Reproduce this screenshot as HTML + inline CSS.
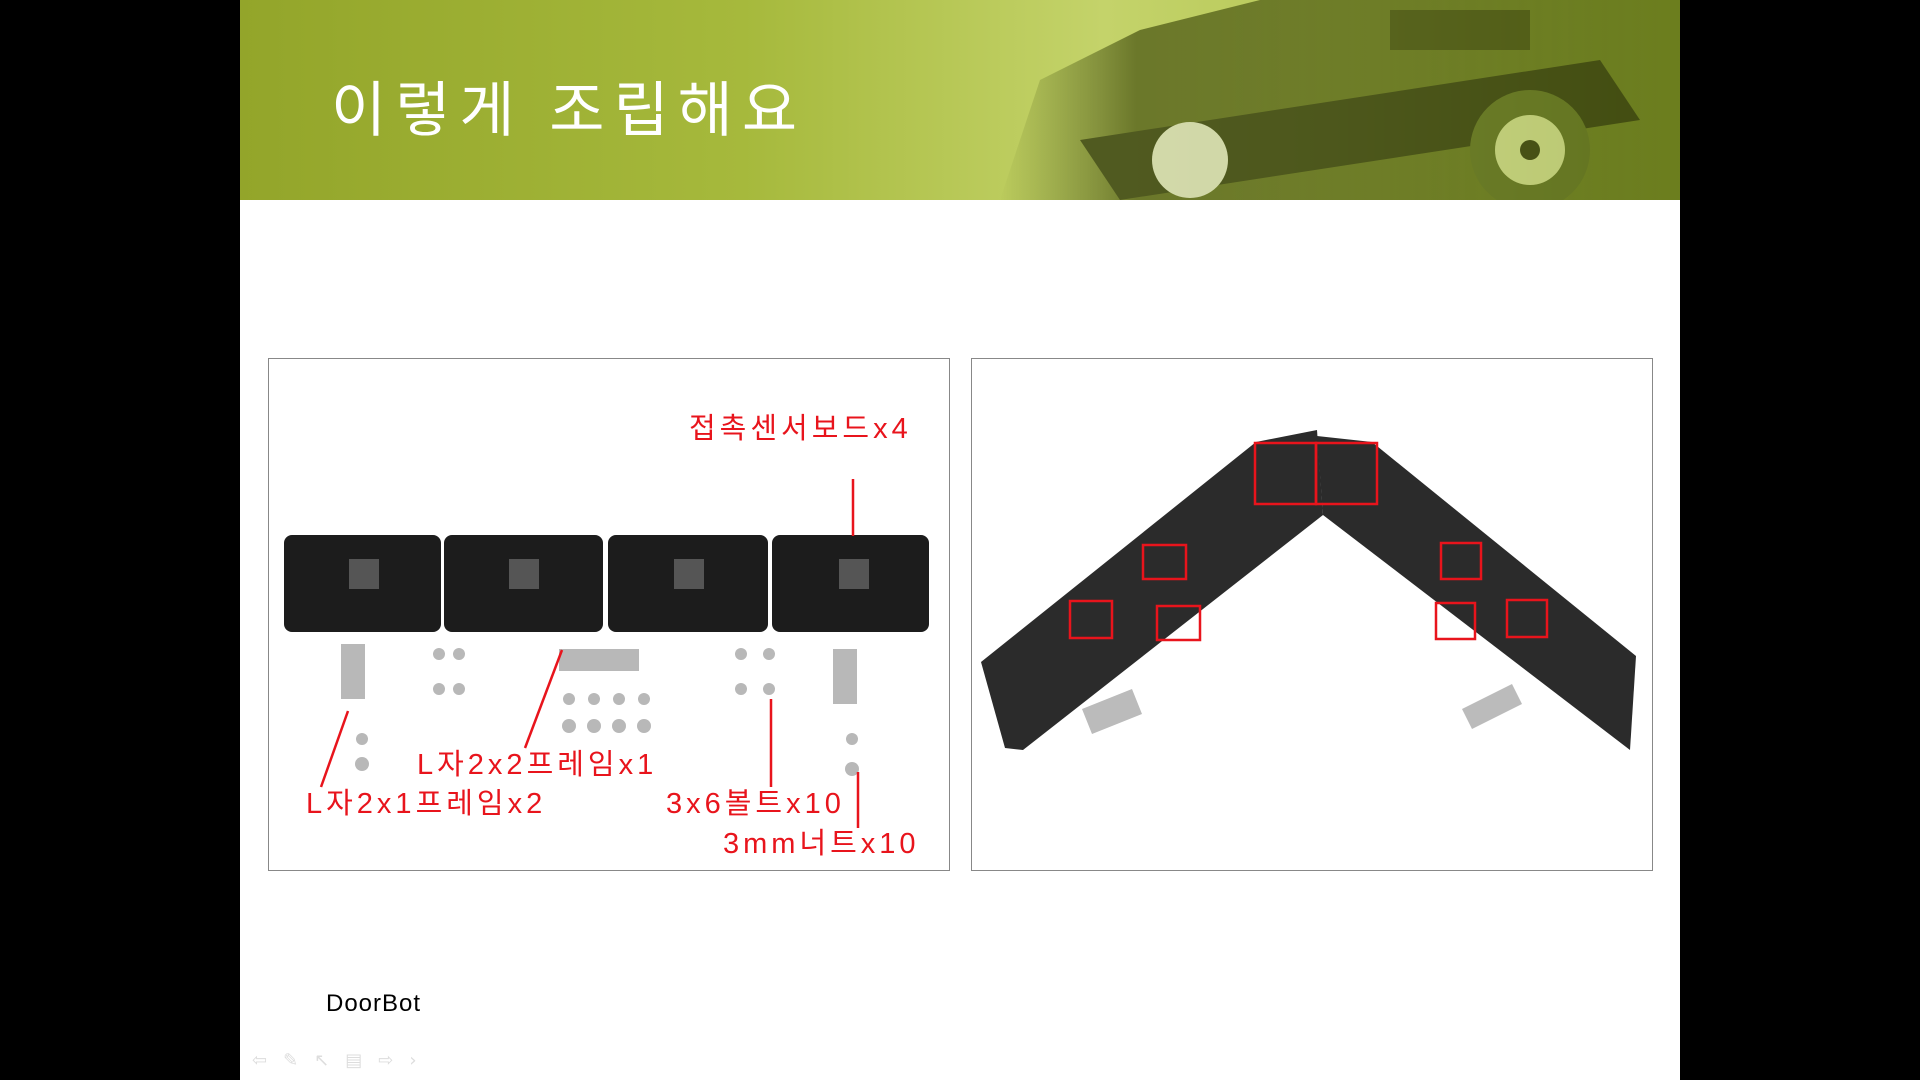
<!DOCTYPE html>
<html><head><meta charset="utf-8"><style>
html,body{margin:0;padding:0;background:#000;width:1920px;height:1080px;overflow:hidden}
#slide{position:absolute;left:240px;top:0;width:1440px;height:1080px;background:#fff;overflow:hidden}
#hdr{position:absolute;left:0;top:0;width:1440px;height:200px;background:linear-gradient(90deg,#93a52a 0%,#a6b93c 35%,#c4d36a 60%,#b8c95a 75%,#8c9e2a 100%)}
#title{position:absolute;left:91px;top:62px;font:60px "Liberation Sans","Noto Sans CJK KR",sans-serif;color:#fff;letter-spacing:9px}
.box{position:absolute;top:358px;width:680px;height:511px;border:1px solid #888;background:#fff}
.lbl{position:absolute;font:29px "Liberation Sans","Noto Sans CJK KR",sans-serif;color:#e8141c;white-space:nowrap;line-height:1;letter-spacing:4px}
#door{position:absolute;left:86px;top:990px;font:24px "Liberation Sans",sans-serif;color:#000;letter-spacing:1px}
</style></head><body>
<div id="slide">
<div id="hdr">
<svg width="1440" height="200" style="position:absolute;left:0;top:0;opacity:0.75">
<defs><linearGradient id="g1" x1="0" x2="1"><stop offset="0" stop-color="#3c4a0c" stop-opacity="0"/><stop offset="0.2" stop-color="#3a4508"/><stop offset="1" stop-color="#5a6c18"/></linearGradient></defs>
<path d="M760 200 L800 80 L900 30 L1020 0 L1440 0 L1440 200 Z" fill="url(#g1)" opacity="0.85"/>
<path d="M840 140 L1360 60 L1400 120 L880 200 Z" fill="#2a3208"/>
<circle cx="950" cy="160" r="38" fill="#d8dcc0"/>
<circle cx="1290" cy="150" r="60" fill="#55661c"/>
<circle cx="1290" cy="150" r="35" fill="#c9d58a"/>
<circle cx="1290" cy="150" r="10" fill="#2a3208"/>
<rect x="1150" y="10" width="140" height="40" fill="#3a440c"/>
</svg>
<div id="title">이렇게 조립해요</div>
</div>

<div class="box" style="left:28px">
<svg width="680" height="511" style="position:absolute;left:0;top:0">
<g fill="#1c1c1c">
<rect x="15" y="176" width="157" height="97" rx="8"/>
<rect x="175" y="176" width="159" height="97" rx="8"/>
<rect x="339" y="176" width="160" height="97" rx="8"/>
<rect x="503" y="176" width="157" height="97" rx="8"/>
</g>
<g fill="#555"><rect x="80" y="200" width="30" height="30"/><rect x="240" y="200" width="30" height="30"/><rect x="405" y="200" width="30" height="30"/><rect x="570" y="200" width="30" height="30"/></g>
<g fill="#b8b8b8">
<rect x="72" y="285" width="24" height="55"/>
<rect x="290" y="290" width="80" height="22"/>
<rect x="564" y="290" width="24" height="55"/>
<circle cx="170" cy="295" r="6"/><circle cx="190" cy="295" r="6"/><circle cx="170" cy="330" r="6"/><circle cx="190" cy="330" r="6"/>
<circle cx="300" cy="340" r="6"/><circle cx="325" cy="340" r="6"/><circle cx="350" cy="340" r="6"/><circle cx="375" cy="340" r="6"/>
<circle cx="300" cy="367" r="7"/><circle cx="325" cy="367" r="7"/><circle cx="350" cy="367" r="7"/><circle cx="375" cy="367" r="7"/>
<circle cx="472" cy="295" r="6"/><circle cx="500" cy="295" r="6"/><circle cx="472" cy="330" r="6"/><circle cx="500" cy="330" r="6"/>
<circle cx="93" cy="380" r="6"/><circle cx="93" cy="405" r="7"/><circle cx="583" cy="380" r="6"/><circle cx="583" cy="410" r="7"/>
</g>
<g stroke="#e8141c" stroke-width="2.5">
<line x1="584" y1="120" x2="584" y2="177"/>
<line x1="293" y1="291" x2="256" y2="389"/>
<line x1="79" y1="352" x2="52" y2="428"/>
<line x1="502" y1="340" x2="502" y2="428"/>
<line x1="589" y1="413" x2="589" y2="469"/>
</g>
</svg>
<div class="lbl" style="left:420px;top:56px">접촉센서보드x4</div>
<div class="lbl" style="left:148px;top:392px">L자2x2프레임x1</div>
<div class="lbl" style="left:37px;top:431px">L자2x1프레임x2</div>
<div class="lbl" style="left:397px;top:431px">3x6볼트x10</div>
<div class="lbl" style="left:454px;top:471px">3mm너트x10</div>
</div>

<div class="box" style="left:731px">
<svg width="680" height="511" style="position:absolute;left:0;top:0">
<g fill="#2b2b2b">
<polygon points="284,83 345,71 351,156 51,391 33,389 9,303"/>
<polygon points="345,77 400,83 664,297 658,391 351,156"/>
</g>
<g fill="#bbb">
<polygon points="110,350 160,330 170,355 120,375"/>
<polygon points="490,350 540,325 550,345 500,370"/>
</g>
<g fill="none" stroke="#e8141c" stroke-width="2.5">
<rect x="283" y="84" width="61" height="61"/>
<rect x="344" y="84" width="61" height="61"/>
<rect x="171" y="186" width="43" height="34"/>
<rect x="98" y="242" width="42" height="37"/>
<rect x="185" y="247" width="43" height="34"/>
<rect x="469" y="184" width="40" height="36"/>
<rect x="464" y="244" width="39" height="36"/>
<rect x="535" y="241" width="40" height="37"/>
</g>
</svg>
</div>

<div id="door">DoorBot</div>
<div style="position:absolute;left:12px;top:1050px;font:18px 'DejaVu Sans',sans-serif;color:#ddd;letter-spacing:16px">⇦✎↖▤⇨›</div>
</div>
</body></html>
